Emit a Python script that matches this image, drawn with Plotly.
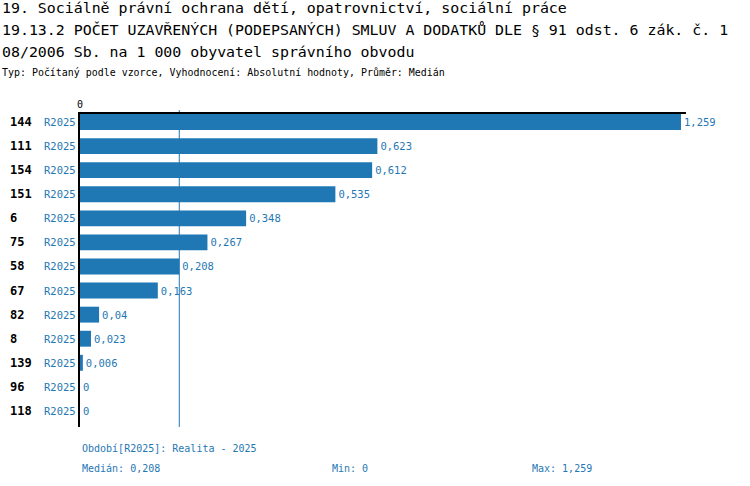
import numpy as np
import plotly.graph_objects as go

# data
categories = ["144", "111", "154", "151", "6", "75", "58", "67", "82", "8", "139", "96", "118"]
series_name = "R2025"
values = [1.259, 0.623, 0.612, 0.535, 0.348, 0.267, 0.208, 0.163, 0.04, 0.023, 0.006, 0, 0]

title_lines = [
    "19. Sociálně právní ochrana dětí, opatrovnictví, sociální práce",
    "19.13.2 POČET UZAVŘENÝCH (PODEPSANÝCH) SMLUV A DODATKŮ DLE § 91 odst. 6 zák. č. 1",
    "08/2006 Sb. na 1 000 obyvatel správního obvodu",
]
subtitle = "Typ: Počítaný podle vzorce, Vyhodnocení: Absolutní hodnoty, Průměr: Medián"
period_note = "Období[R2025]: Realita - 2025"

BLUE = "#1f77b4"
MONO = "DejaVu Sans Mono"

W, H = 750, 486
L, R, T, B = 80, 64, 114, 59
PW, PH = W - L - R, H - T - B


def cz(v):
    return f"{v:g}".replace(".", ",")


def px(x):
    return (x - L) / PW


def py(y):
    return (H - B - y) / PH


median = float(np.median(values))

fig = go.Figure(go.Bar(
    y=categories,
    x=values,
    orientation="h",
    width=0.66,
    marker=dict(color=BLUE, line=dict(width=0)),
    text=[cz(v) for v in values],
    textposition="outside",
    textfont=dict(family=MONO, size=10.5, color=BLUE),
    cliponaxis=False,
    hoverinfo="skip",
))

fig.add_shape(type="line", xref="x", yref="paper", x0=median, x1=median,
              y0=0, y1=py(110), line=dict(color=BLUE, width=1), layer="below")

ann = []
for i, line in enumerate(title_lines):
    ann.append(dict(text=line, x=px(0), y=py(8 + 22 * i), xanchor="left", yanchor="middle",
                    font=dict(family=MONO, size=14.9, color="black")))
ann.append(dict(text=subtitle, x=px(0), y=py(73), xanchor="left", yanchor="middle",
                font=dict(family=MONO, size=9.95, color="black")))

# category axis: annotation y given as row index
for i, c in enumerate(categories):
    ann.append(dict(text="<b>" + c + "</b>", x=px(8), y=i, yref="y", xanchor="left", yanchor="middle",
                    font=dict(family=MONO, size=12, color="black")))
    ann.append(dict(text=series_name, x=px(78), y=i, yref="y", xanchor="right", yanchor="middle",
                    font=dict(family=MONO, size=10.5, color=BLUE)))

ann.append(dict(text=period_note, x=px(80), y=py(448), xanchor="left", yanchor="middle",
                font=dict(family=MONO, size=10, color=BLUE)))
ann.append(dict(text="Medián: " + cz(median), x=px(80), y=py(468), xanchor="left", yanchor="middle",
                font=dict(family=MONO, size=10, color=BLUE)))
ann.append(dict(text="Min: " + cz(min(values)), x=px(330), y=py(468), xanchor="left", yanchor="middle",
                font=dict(family=MONO, size=10, color=BLUE)))
ann.append(dict(text="Max: " + cz(max(values)), x=px(530), y=py(468), xanchor="left", yanchor="middle",
                font=dict(family=MONO, size=10, color=BLUE)))

for a in ann:
    a.setdefault("xref", "paper")
    a.setdefault("yref", "paper")
    a["showarrow"] = False

n = len(categories)
fig.update_layout(
    width=W, height=H,
    margin=dict(l=L, r=R, t=T, b=B, pad=0, autoexpand=False),
    plot_bgcolor="white", paper_bgcolor="white",
    showlegend=False,
    annotations=ann,
    xaxis=dict(side="top", range=[0, 1.2695], tickvals=[0], ticktext=["0"],
               tickfont=dict(family=MONO, size=10, color="black"),
               showgrid=False, zeroline=False, showline=True, linecolor="black", linewidth=2,
               ticks="", automargin=False, fixedrange=True),
    yaxis=dict(type="category", autorange=False, range=[n - 1 + 2 / 3, -1 / 3],
               showticklabels=False,
               showgrid=False, zeroline=False, showline=True, linecolor="black", linewidth=2,
               ticks="", automargin=False, fixedrange=True),
)

fig.write_html("out.html", config={"displayModeBar": False},
               post_script="document.body.style.margin='0px';")
